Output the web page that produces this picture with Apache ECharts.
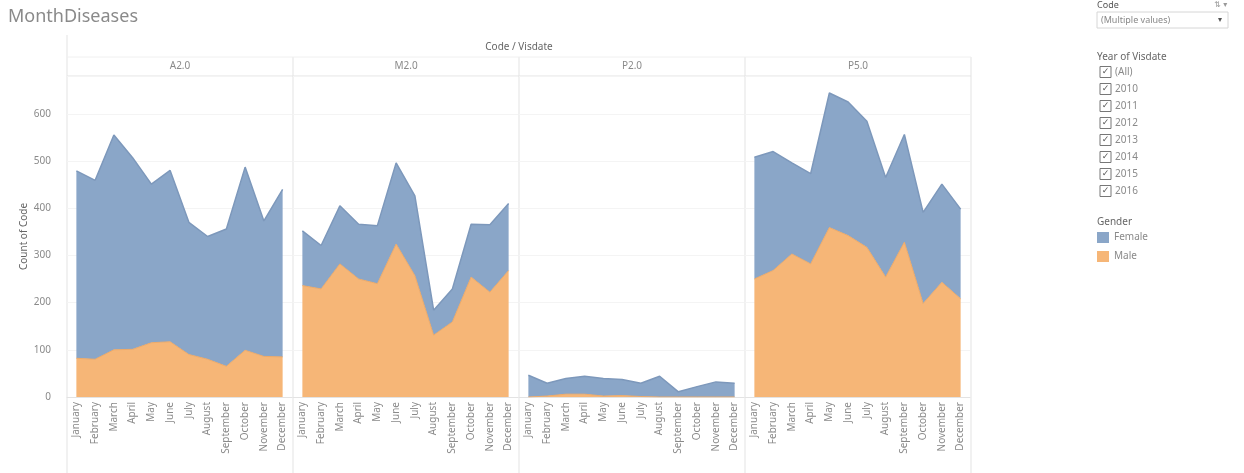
<!DOCTYPE html>
<html>
<head>
<meta charset="utf-8">
<title>MonthDiseases</title>
<script src="https://cdn.jsdelivr.net/npm/echarts@6/dist/echarts.min.js"></script>
<style>
  html, body { margin: 0; padding: 0; background: #fff; }
  #chart { width: 1244px; height: 473px; }
</style>
</head>
<body>
<div id="chart"></div>
<script>
// Monthly case counts per disease code, split by gender (stacked areas).
const months = ['January', 'February', 'March', 'April', 'May', 'June', 'July',
  'August', 'September', 'October', 'November', 'December'];
const codes = ['A2.0', 'M2.0', 'P2.0', 'P5.0'];
const years = ['(All)', '2010', '2011', '2012', '2013', '2014', '2015', '2016'];
const yTicks = [0, 100, 200, 300, 400, 500, 600];

const maleA2 = [82, 80, 100, 101, 115, 117, 90, 80, 65, 99, 86, 85];
const femaleA2 = [397, 379, 455, 406, 336, 363, 280, 260, 291, 388, 287, 355];
const maleM2 = [236, 229, 282, 250, 240, 324, 257, 131, 159, 254, 222, 268];
const femaleM2 = [116, 92, 123, 116, 123, 172, 169, 53, 70, 112, 143, 142];
const maleP2 = [0, 2, 6, 6, 2, 3, 1, 0, 0, 0, 0, 0];
const femaleP2 = [46, 27, 33, 38, 37, 34, 28, 44, 11, 22, 32, 29];
const maleP5 = [250, 268, 303, 282, 359, 342, 317, 254, 328, 198, 243, 208];
const femaleP5 = [258, 252, 193, 191, 285, 283, 267, 211, 228, 193, 208, 190];

const maleByCode = [maleA2, maleM2, maleP2, maleP5];
const femaleByCode = [femaleA2, femaleM2, femaleP2, femaleP5];

const FONT = '"Noto Sans", "Open Sans", sans-serif';
const COLOR_FEMALE = '#8aa6c8';
const COLOR_MALE = '#f6b677';
const LINE = '#e3e3e3';

const panelLeft = 67;
const panelWidth = 226;
const plotTop = 76;
const plotBottom = 397;
const H = 473;

const grids = [], xAxes = [], yAxes = [], series = [];
codes.forEach((code, i) => {
  grids.push({ left: panelLeft + i * panelWidth, width: panelWidth - 1, top: plotTop, bottom: H - plotBottom });
  xAxes.push({
    type: 'category', gridIndex: i, data: months, boundaryGap: true,
    axisLine: { show: true, lineStyle: { color: LINE } },
    axisTick: { show: false },
    axisLabel: { interval: 0, rotate: 90, fontSize: 10, color: '#8a8a8a', fontFamily: FONT, margin: 5 }
  });
  yAxes.push({
    type: 'value', gridIndex: i, min: 0, max: 680, interval: 100,
    name: i === 0 ? 'Count of Code' : '',
    nameLocation: 'middle', nameRotate: 90, nameGap: 38,
    nameTextStyle: { fontSize: 10, color: '#666', fontFamily: FONT },
    axisLine: { show: false }, axisTick: { show: false },
    axisLabel: {
      show: i === 0, fontSize: 10, color: '#8a8a8a', fontFamily: FONT, margin: 16,
      showMaxLabel: false,
      formatter: v => (yTicks.indexOf(v) >= 0 ? String(v) : '')
    },
    splitLine: { show: true, lineStyle: { color: '#f4f4f4' } }
  });
  series.push({
    name: 'Male', type: 'line', xAxisIndex: i, yAxisIndex: i, stack: 'g' + i,
    data: maleByCode[i], symbol: 'none',
    lineStyle: { width: 1, color: '#eeaa68' },
    areaStyle: { color: COLOR_MALE, opacity: 1 },
    itemStyle: { color: COLOR_MALE }
  });
  series.push({
    name: 'Female', type: 'line', xAxisIndex: i, yAxisIndex: i, stack: 'g' + i,
    data: femaleByCode[i], symbol: 'none',
    lineStyle: { width: 1.5, color: '#7d98bb' },
    areaStyle: { color: COLOR_FEMALE, opacity: 1 },
    itemStyle: { color: COLOR_FEMALE }
  });
});

// Frame, column headers and the filter card on the right
const graphics = [];
const right = panelLeft + codes.length * panelWidth;
graphics.push({ type: 'line', shape: { x1: panelLeft, y1: 35, x2: panelLeft, y2: H }, style: { stroke: LINE, lineWidth: 1 } });
codes.forEach((code, i) => {
  const xR = panelLeft + (i + 1) * panelWidth;
  graphics.push({ type: 'line', shape: { x1: xR, y1: 57, x2: xR, y2: H }, style: { stroke: LINE, lineWidth: 1 } });
  graphics.push({
    type: 'text', x: panelLeft + i * panelWidth + panelWidth / 2, y: 66,
    style: { text: code, fontSize: 10, fill: '#8a8a8a', fontFamily: FONT, textAlign: 'center', textVerticalAlign: 'middle' }
  });
});
graphics.push({ type: 'line', shape: { x1: panelLeft, y1: 57, x2: right, y2: 57 }, style: { stroke: '#f0f0f0', lineWidth: 1 } });
graphics.push({ type: 'line', shape: { x1: panelLeft, y1: 76, x2: right, y2: 76 }, style: { stroke: LINE, lineWidth: 1 } });
graphics.push({
  type: 'text', x: (panelLeft + right) / 2, y: 47,
  style: { text: 'Code / Visdate', fontSize: 10, fill: '#666', fontFamily: FONT, textAlign: 'center', textVerticalAlign: 'middle' }
});

const cardX = 1097;
graphics.push({ type: 'text', x: cardX, y: 5, style: { text: 'Code', fontSize: 9, fill: '#555', fontFamily: FONT, textVerticalAlign: 'middle' } });
graphics.push({ type: 'text', x: 1214, y: 5, style: { text: '⇅ ▾', fontSize: 8, fill: '#999', fontFamily: 'DejaVu Sans', textVerticalAlign: 'middle' } });
graphics.push({ type: 'rect', shape: { x: cardX, y: 12, width: 131, height: 16 }, style: { fill: '#fff', stroke: '#d6d6d6', lineWidth: 1 } });
graphics.push({ type: 'text', x: cardX + 4, y: 20, style: { text: '(Multiple values)', fontSize: 9, fill: '#888', fontFamily: FONT, textVerticalAlign: 'middle' } });
graphics.push({ type: 'text', x: 1218, y: 20, style: { text: '▾', fontSize: 8, fill: '#555', fontFamily: 'DejaVu Sans', textVerticalAlign: 'middle' } });
graphics.push({ type: 'text', x: cardX, y: 57, style: { text: 'Year of Visdate', fontSize: 10, fill: '#666', fontFamily: FONT, textVerticalAlign: 'middle' } });
years.forEach((yr, k) => {
  const cy = 72 + k * 17;
  graphics.push({ type: 'rect', shape: { x: 1100, y: cy - 5.5, width: 11, height: 11 }, style: { fill: '#fff', stroke: '#777', lineWidth: 1 } });
  graphics.push({ type: 'text', x: 1105.5, y: cy, style: { text: '✓', fontSize: 9, fill: '#555', fontFamily: 'DejaVu Sans', textAlign: 'center', textVerticalAlign: 'middle' } });
  graphics.push({ type: 'text', x: 1115, y: cy, style: { text: yr, fontSize: 10, fill: '#8a8a8a', fontFamily: FONT, textVerticalAlign: 'middle' } });
});
graphics.push({ type: 'text', x: cardX, y: 222, style: { text: 'Gender', fontSize: 10, fill: '#666', fontFamily: FONT, textVerticalAlign: 'middle' } });

const chart = echarts.init(document.getElementById('chart'), null, { renderer: 'canvas' });
chart.setOption({
  backgroundColor: '#fff',
  animation: false,
  title: {
    text: 'MonthDiseases', left: 3, top: 3,
    textStyle: { fontSize: 18, fontWeight: 'normal', color: '#8a8a8a', fontFamily: FONT }
  },
  legend: {
    data: ['Female', 'Male'], orient: 'vertical', left: 1097, top: 232, padding: 0,
    icon: 'rect', itemWidth: 12, itemHeight: 11, itemGap: 8,
    textStyle: { fontSize: 10, color: '#8a8a8a', fontFamily: FONT }
  },
  grid: grids,
  xAxis: xAxes,
  yAxis: yAxes,
  series: series,
  graphic: graphics
});
</script>
</body>
</html>
